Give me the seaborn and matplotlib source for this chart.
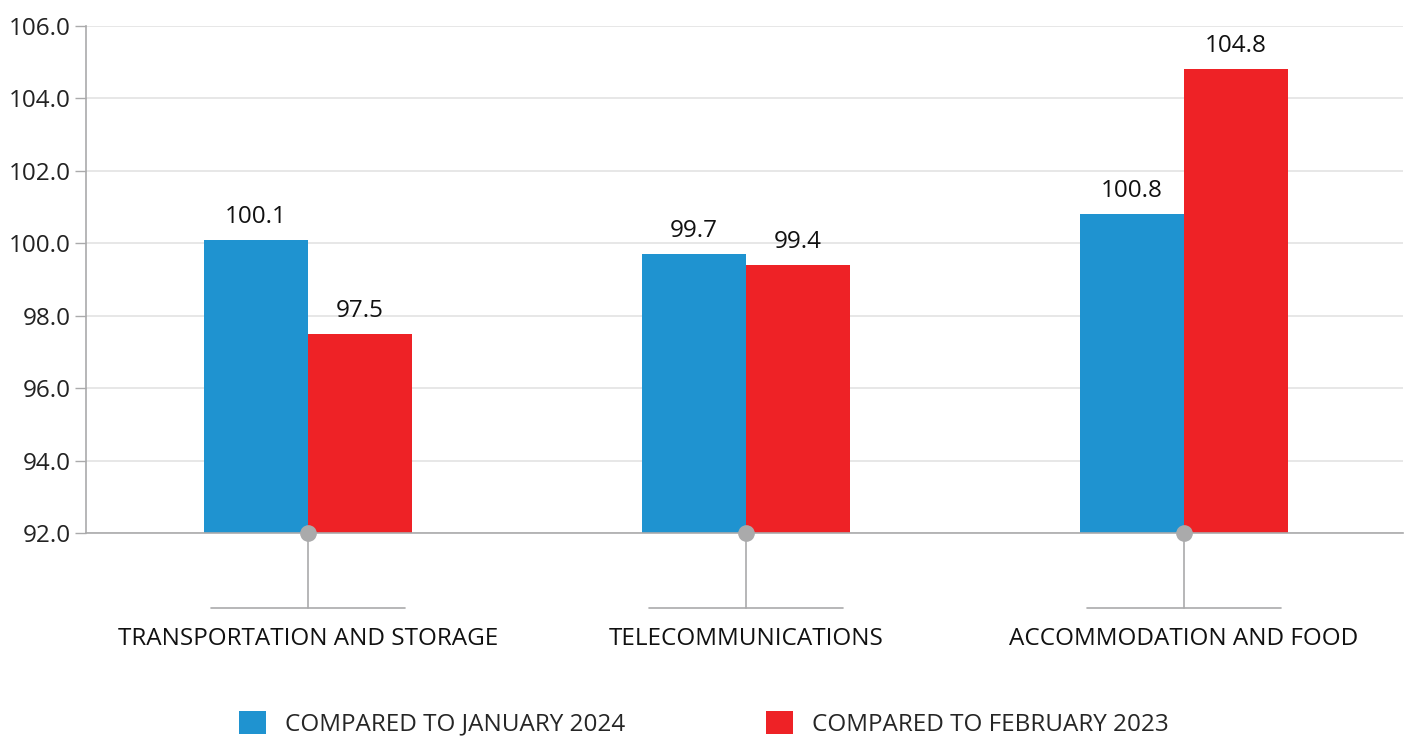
import matplotlib
matplotlib.use("Agg")
import matplotlib.pyplot as plt
import matplotlib.transforms as mtransforms
import pandas as pd
import seaborn as sns

# Data
categories = ["TRANSPORTATION AND STORAGE", "TELECOMMUNICATIONS", "ACCOMMODATION AND FOOD"]
series_names = ["COMPARED TO JANUARY 2024", "COMPARED TO FEBRUARY 2023"]
vs_jan_2024 = [100.1, 99.7, 100.8]
vs_feb_2023 = [97.5, 99.4, 104.8]
y_ticks = [92, 94, 96, 98, 100, 102, 104, 106]

colors = ["#1f93d0", "#ee2226"]
gray = "#aaaaab"
fs = 17.5

df = pd.DataFrame({
    "category": categories * 2,
    "series": [series_names[0]] * 3 + [series_names[1]] * 3,
    "value": vs_jan_2024 + vs_feb_2023,
})

sns.set_theme(style="white")
plt.rcParams["font.family"] = ["Open Sans", "DejaVu Sans"]

fig = plt.figure(figsize=(14.08, 7.38), dpi=100)
ax = fig.add_axes([0.0611, 0.2778, 0.9354, 0.687])

sns.barplot(data=df, x="category", y="value", hue="series", order=categories,
            hue_order=series_names, palette=colors, width=0.475, saturation=1,
            errorbar=None, linewidth=0, ax=ax, zorder=2)

ax.set_ylim(92, 106)
ax.set_xlim(-0.507, 2.5)
ax.set_yticks(y_ticks)
ax.set_yticklabels([f"{v:.1f}" for v in y_ticks], fontsize=fs, color="#222222")
ax.yaxis.grid(True, color="#e3e3e3", linewidth=1.2, zorder=0)
ax.set_axisbelow(True)
ax.tick_params(axis="y", length=8, width=1, color=gray, left=True, pad=3)
ax.set_xlabel("")
ax.set_ylabel("")

for side in ["top", "right"]:
    ax.spines[side].set_visible(False)
ax.spines["left"].set_color(gray)
ax.spines["left"].set_linewidth(1.2)
ax.spines["bottom"].set_color(gray)
ax.spines["bottom"].set_linewidth(1.2)

for container in ax.containers:
    ax.bar_label(container, fmt="%.1f", padding=8, fontsize=fs, color="#111111")

# category ticks: dot at baseline, stem and a short bar below the axis
ax.set_xticks(range(len(categories)))
ax.set_xticklabels(categories, fontsize=fs, color="#111111")
ax.tick_params(axis="x", length=0, pad=68)
trans = mtransforms.blended_transform_factory(ax.transData, ax.transAxes)
for i in range(len(categories)):
    ax.plot([i, i], [0, -0.148], color=gray, linewidth=1.2, transform=trans,
            clip_on=False, zorder=3)
    ax.plot([i - 0.221, i + 0.221], [-0.148, -0.148], color=gray, linewidth=1.2,
            transform=trans, clip_on=False, zorder=3)
    ax.plot([i], [0], marker="o", markersize=11, color=gray, transform=trans,
            clip_on=False, zorder=5)

handles, labels = ax.get_legend_handles_labels()
ax.legend_.remove()
fig.legend(handles, labels, loc="lower center", bbox_to_anchor=(0.5, -0.028), ncol=2,
           frameon=False, fontsize=fs, handlelength=1.1, handleheight=1.1,
           handletextpad=0.8, columnspacing=5.8)

fig.savefig("out.png", dpi=100)
